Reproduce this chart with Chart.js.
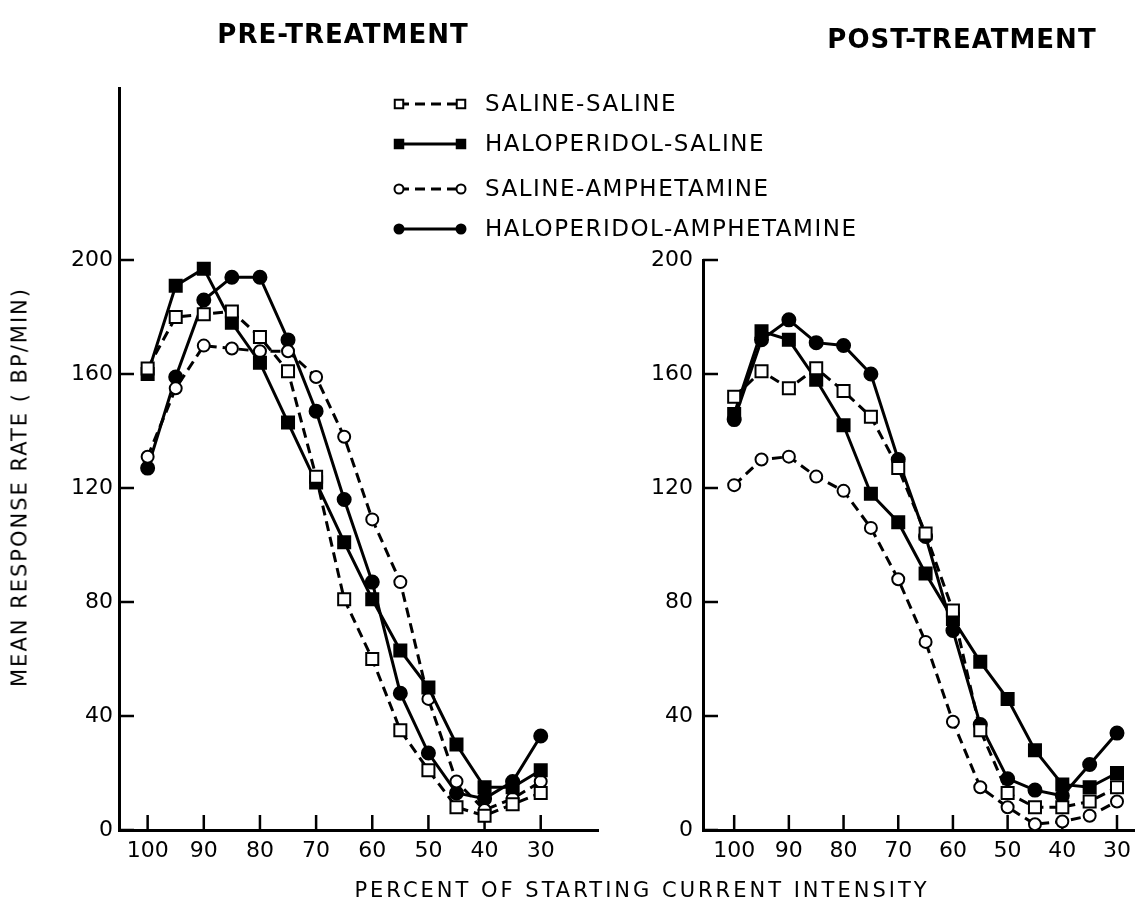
<!DOCTYPE html>
<html>
<head>
<meta charset="utf-8">
<script src="https://cdn.jsdelivr.net/npm/chart.js@4.4.0/dist/chart.umd.min.js"></script>
<style>
  html, body { margin: 0; padding: 0; background: #fff; }
  #wrap { position: relative; width: 1145px; height: 911px; overflow: hidden;
          font-family: "DejaVu Sans", sans-serif; color: #000; }
  #wrap canvas { position: absolute; left: 0; top: 0; }
  .txt { position: absolute; white-space: nowrap; line-height: 1; }
  .title { font-size: 26px; font-weight: bold; letter-spacing: 1px; transform: translateX(-50%); }
  .leg { font-size: 23px; letter-spacing: 1.5px; }
  .axis { font-size: 21px; letter-spacing: 2px; }
</style>
</head>
<body>
<div id="wrap">
  <canvas id="preChart" width="1145" height="911"></canvas>
  <canvas id="postChart" width="1145" height="911"></canvas>

  <div class="txt title" style="left:343px; top:21px;">PRE-TREATMENT</div>
  <div class="txt title" style="left:962px; top:26px;">POST-TREATMENT</div>

  <div class="txt leg" style="left:485px; top:92px;">SALINE-SALINE</div>
  <div class="txt leg" style="left:485px; top:132px;">HALOPERIDOL-SALINE</div>
  <div class="txt leg" style="left:485px; top:177px;">SALINE-AMPHETAMINE</div>
  <div class="txt leg" style="left:485px; top:217px;">HALOPERIDOL-AMPHETAMINE</div>

  <div class="txt axis" style="left:20px; top:487px; transform: translate(-50%,-50%) rotate(-90deg);">MEAN RESPONSE RATE ( BP/MIN)</div>
  <div class="txt axis" style="left:642px; top:890px; letter-spacing:3px; transform: translate(-50%,-50%);">PERCENT OF STARTING CURRENT INTENSITY</div>
</div>

<script>
// x values (percent of starting current intensity)
const intensity = [100, 95, 90, 85, 80, 75, 70, 65, 60, 55, 50, 45, 40, 35, 30];
const xTickValues = [100, 90, 80, 70, 60, 50, 40, 30];
const yTickValues = [0, 40, 80, 120, 160, 200];

const groupNames = ["SALINE-SALINE", "HALOPERIDOL-SALINE", "SALINE-AMPHETAMINE", "HALOPERIDOL-AMPHETAMINE"];

// pre-treatment
const preSalineSaline = [162, 180, 181, 182, 173, 161, 124, 81, 60, 35, 21, 8, 5, 9, 13];
const preHaloSaline   = [160, 191, 197, 178, 164, 143, 122, 101, 81, 63, 50, 30, 15, 15, 21];
const preSalineAmph   = [131, 155, 170, 169, 168, 168, 159, 138, 109, 87, 46, 17, 7, 11, 17];
const preHaloAmph     = [127, 159, 186, 194, 194, 172, 147, 116, 87, 48, 27, 13, 11, 17, 33];

// post-treatment
const postSalineSaline = [152, 161, 155, 162, 154, 145, 127, 104, 77, 35, 13, 8, 8, 10, 15];
const postHaloSaline   = [146, 175, 172, 158, 142, 118, 108, 90, 74, 59, 46, 28, 16, 15, 20];
const postSalineAmph   = [121, 130, 131, 124, 119, 106, 88, 66, 38, 15, 8, 2, 3, 5, 10];
const postHaloAmph     = [144, 172, 179, 171, 170, 160, 130, 103, 70, 37, 18, 14, 12, 23, 34];

const FONT = "DejaVu Sans";

// line / marker look of each group
const groupStyle = [
  { dash: [10, 6], pointStyle: "rect",   filled: false, radius: 8.5 },
  { dash: [],      pointStyle: "rect",   filled: true,  radius: 8.5 },
  { dash: [10, 6], pointStyle: "circle", filled: false, radius: 6 },
  { dash: [],      pointStyle: "circle", filled: true,  radius: 6.5 }
];

function buildDatasets(seriesList) {
  return seriesList.map((vals, i) => {
    const st = groupStyle[i];
    return {
      label: groupNames[i],
      data: intensity.map((x, k) => ({ x: x, y: vals[k] })),
      borderColor: "#000",
      borderWidth: 3,
      borderDash: st.dash,
      pointStyle: st.pointStyle,
      pointRadius: st.radius,
      pointBorderWidth: 2,
      pointBorderColor: "#000",
      pointBackgroundColor: st.filled ? "#000" : "#fff",
      tension: 0,
      clip: false
    };
  });
}

// ticks pointing into the plot
const inwardTicks = {
  id: "inwardTicks",
  beforeDatasetsDraw(chart) {
    const { ctx, chartArea, scales: { x, y } } = chart;
    ctx.save();
    ctx.strokeStyle = "#000";
    ctx.lineWidth = 2.5;
    ctx.beginPath();
    yTickValues.forEach(v => {
      const py = y.getPixelForValue(v);
      ctx.moveTo(chartArea.left, py);
      ctx.lineTo(chartArea.left + 15, py);
    });
    xTickValues.forEach(v => {
      const px = x.getPixelForValue(v);
      ctx.moveTo(px, chartArea.bottom);
      ctx.lineTo(px, chartArea.bottom - 15);
    });
    ctx.stroke();
    ctx.restore();
  }
};

// legend samples (line with a marker at each end)
const legendSamples = {
  id: "legendSamples",
  afterDraw(chart) {
    const ctx = chart.ctx;
    const rows = [104, 144, 189, 229];
    chart.data.datasets.forEach((ds, i) => {
      const y = rows[i];
      const x0 = 399, x1 = 461;
      ctx.save();
      ctx.strokeStyle = "#000";
      ctx.lineWidth = 3;
      ctx.setLineDash(ds.borderDash);
      ctx.beginPath();
      ctx.moveTo(x0, y);
      ctx.lineTo(x1, y);
      ctx.stroke();
      ctx.setLineDash([]);
      ctx.fillStyle = ds.pointBackgroundColor;
      ctx.strokeStyle = "#000";
      ctx.lineWidth = 2;
      const r = ds.pointStyle === "rect" ? 6 : 4.5;
      [x0, x1].forEach(px => {
        Chart.helpers.drawPoint(ctx, { pointStyle: ds.pointStyle, radius: r, borderWidth: 2, rotation: 0 }, px, y);
      });
      ctx.restore();
    });
  }
};

function makePanel(canvasId, seriesList, opt) {
  return new Chart(document.getElementById(canvasId), {
    type: "line",
    data: { datasets: buildDatasets(seriesList) },
    plugins: opt.extraPlugins ? [inwardTicks].concat(opt.extraPlugins) : [inwardTicks],
    options: {
      responsive: false,
      animation: false,
      events: [],
      layout: { padding: opt.padding },
      plugins: { legend: { display: false }, tooltip: { enabled: false } },
      scales: {
        x: {
          type: "linear",
          reverse: true,
          min: opt.xMin,
          max: opt.xMax,
          afterBuildTicks: s => { s.ticks = xTickValues.map(v => ({ value: v })); },
          afterFit: s => { s.height = 81; },
          grid: { display: false, drawTicks: false },
          border: { display: true, color: "#000", width: 3 },
          ticks: { color: "#000", font: { family: FONT, size: 22 }, padding: 8, maxRotation: 0, autoSkip: false }
        },
        y: {
          type: "linear",
          min: 0,
          max: opt.yMax,
          afterBuildTicks: s => { s.ticks = yTickValues.map(v => ({ value: v })); },
          afterFit: s => { s.width = opt.yWidth; },
          grid: { display: false, drawTicks: false },
          border: { display: true, color: "#000", width: 3 },
          ticks: { color: "#000", font: { family: FONT, size: 22 }, padding: opt.yPad }
        }
      }
    }
  });
}

makePanel("preChart",
  [preSalineSaline, preHaloSaline, preSalineAmph, preHaloAmph],
  { padding: { left: 0, top: 88, right: 547, bottom: 0 },
    xMin: 19.8, xMax: 105.1, yMax: 260.4, yWidth: 119, yPad: 6,
    extraPlugins: [legendSamples] });

makePanel("postChart",
  [postSalineSaline, postHaloSaline, postSalineAmph, postHaloAmph],
  { padding: { left: 623, top: 260, right: 0, bottom: 0 },
    xMin: 26.8, xMax: 105.7, yMax: 200, yWidth: 80, yPad: 10 });
</script>
</body>
</html>
